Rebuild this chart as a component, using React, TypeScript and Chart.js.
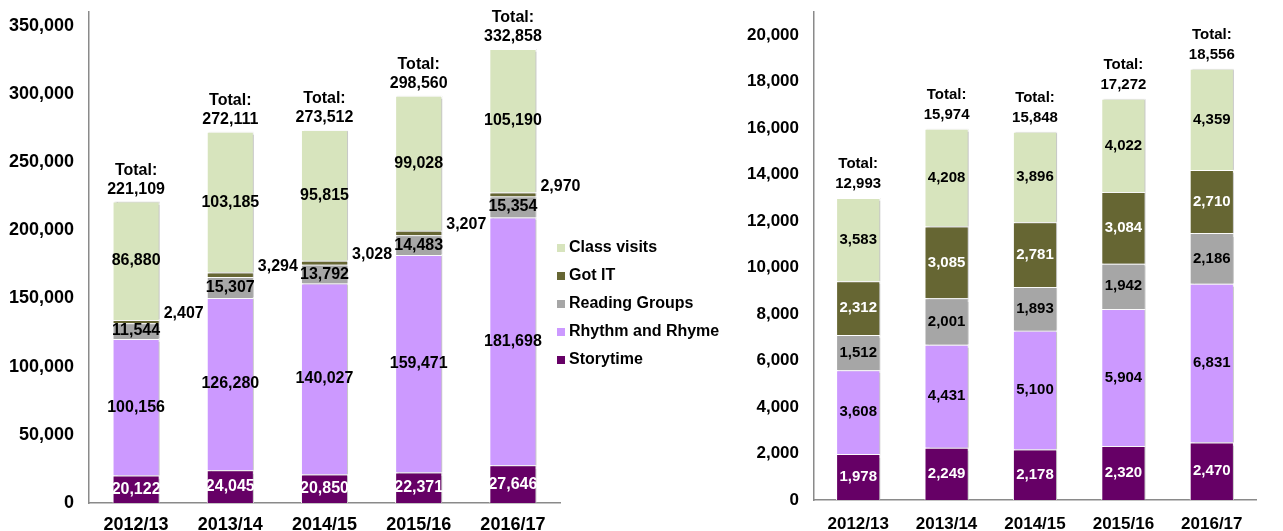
import React, { useEffect, useRef } from "react";
import { Chart, registerables } from "chart.js";

Chart.register(...registerables);

const categories = ["2012/13", "2013/14", "2014/15", "2015/16", "2016/17"];
const seriesNames = ["Storytime", "Rhythm and Rhyme", "Reading Groups", "Got IT", "Class visits"];
const seriesColors = ["#660066", "#CC99FF", "#A6A6A6", "#666633", "#D7E4BD"];

// Left chart (attendances)
const leftStorytime = [20122, 24045, 20850, 22371, 27646];
const leftRhythm = [100156, 126280, 140027, 159471, 181698];
const leftReading = [11544, 15307, 13792, 14483, 15354];
const leftGotIT = [2407, 3294, 3028, 3207, 2970];
const leftClassVisits = [86880, 103185, 95815, 99028, 105190];
const leftTotals = [221109, 272111, 273512, 298560, 332858];
const leftYTicks = [0, 50000, 100000, 150000, 200000, 250000, 300000, 350000];

// Right chart (sessions)
const rightStorytime = [1978, 2249, 2178, 2320, 2470];
const rightRhythm = [3608, 4431, 5100, 5904, 6831];
const rightReading = [1512, 2001, 1893, 1942, 2186];
const rightGotIT = [2312, 3085, 2781, 3084, 2710];
const rightClassVisits = [3583, 4208, 3896, 4022, 4359];
const rightTotals = [12993, 15974, 15848, 17272, 18556];
const rightYTicks = [0, 2000, 4000, 6000, 8000, 10000, 12000, 14000, 16000, 18000, 20000];

const FONT = 'Arial, "Liberation Sans", sans-serif';
const fmt = (v: number) => v.toLocaleString("en-US");

const barShadow = {
  id: "barShadow",
  beforeDatasetDraw(chart: any) {
    const ctx = chart.ctx;
    ctx.save();
    ctx.shadowColor = "rgba(0,0,0,0.22)";
    ctx.shadowOffsetX = 2;
    ctx.shadowOffsetY = 0;
    ctx.shadowBlur = 1;
  },
  afterDatasetDraw(chart: any) {
    chart.ctx.restore();
  },
};

const segLabels = {
  id: "segLabels",
  afterDatasetsDraw(chart: any, _args: any, opts: any) {
    const ctx = chart.ctx;
    ctx.save();
    ctx.font = `bold ${opts.fontSize}px ${FONT}`;
    ctx.textBaseline = "middle";
    chart.data.datasets.forEach((ds: any, di: number) => {
      const meta = chart.getDatasetMeta(di);
      meta.data.forEach((el: any, i: number) => {
        const txt = fmt(ds.data[i]);
        const cy = (el.y + el.base) / 2;
        if (ds.labelSide) {
          ctx.textAlign = "left";
          ctx.fillStyle = "#000";
          ctx.fillText(txt, el.x + el.width / 2 + 4, cy - 8);
        } else {
          ctx.textAlign = "center";
          ctx.fillStyle = ds.labelColor || "#000";
          ctx.fillText(txt, el.x, cy);
        }
      });
    });
    const last = chart.getDatasetMeta(chart.data.datasets.length - 1);
    ctx.fillStyle = "#000";
    ctx.textAlign = "center";
    last.data.forEach((el: any, i: number) => {
      ctx.fillText("Total:", el.x, el.y - opts.totalOffsets[0]);
      ctx.fillText(fmt(opts.totals[i]), el.x, el.y - opts.totalOffsets[1]);
    });
    ctx.restore();
  },
};

const sideLegend = {
  id: "sideLegend",
  afterDraw(chart: any, _args: any, opts: any) {
    if (!opts || !opts.show) return;
    const ctx = chart.ctx;
    const area = chart.chartArea;
    ctx.save();
    ctx.font = `bold 16px ${FONT}`;
    ctx.textBaseline = "middle";
    ctx.textAlign = "left";
    const ds = chart.data.datasets.slice().reverse();
    ds.forEach((d: any, k: number) => {
      const y = area.top + 236 + k * 28;
      const x = area.right - 3;
      ctx.fillStyle = d.backgroundColor;
      ctx.fillRect(x, y - 4, 8, 8);
      ctx.fillStyle = "#000";
      ctx.fillText(d.label, x + 12, y);
    });
    ctx.restore();
  },
};

function buildConfig(
  series: number[][],
  labelColors: string[],
  sideIdx: number,
  totals: number[],
  yTicks: number[],
  yMax: number,
  cfg: any
) {
  return {
    type: "bar",
    data: {
      labels: categories,
      datasets: series.map((data, i) => ({
        label: seriesNames[i],
        data,
        backgroundColor: seriesColors[i],
        borderColor: "#ffffff",
        borderWidth: 1,
        barPercentage: 1,
        categoryPercentage: 0.5,
        labelColor: labelColors[i],
        labelSide: i === sideIdx,
      })),
    },
    options: {
      animation: false,
      responsive: false,
      maintainAspectRatio: false,
      layout: { padding: { left: 0, top: 12, right: cfg.padRight, bottom: 0 } },
      plugins: {
        legend: { display: false },
        tooltip: { enabled: false },
        segLabels: { fontSize: cfg.labelFont, totals, totalOffsets: cfg.totalOffsets },
        sideLegend: { show: cfg.legend },
      },
      scales: {
        x: {
          stacked: true,
          grid: { display: false, drawTicks: false },
          border: { display: true, color: "#8a8a8a", width: 1.5 },
          ticks: { color: "#000", font: { family: FONT, size: cfg.tickFont, weight: "bold" }, padding: cfg.xPad },
          afterFit: (s: any) => {
            s.height = cfg.xHeight;
            s.paddingLeft = 0;
            s.paddingRight = 0;
          },
        },
        y: {
          stacked: true,
          min: 0,
          max: yMax,
          grid: { display: false, drawTicks: false },
          border: { display: true, color: "#8a8a8a", width: 1.5 },
          ticks: {
            color: "#000",
            font: { family: FONT, size: cfg.tickFont, weight: "bold" },
            padding: 15,
            callback: (v: any) => fmt(Number(v)),
          },
          afterBuildTicks: (s: any) => {
            s.ticks = yTicks.map((v) => ({ value: v }));
          },
          afterFit: (s: any) => {
            s.width = cfg.yWidth;
            s.paddingTop = 0;
            s.paddingBottom = 0;
          },
        },
      },
    },
    plugins: [barShadow, segLabels, sideLegend],
  };
}

function ChartCanvas({ config, width, height, left }: any) {
  const ref = useRef<HTMLCanvasElement | null>(null);
  useEffect(() => {
    if (!ref.current) return;
    const chart = new Chart(ref.current, config);
    return () => chart.destroy();
  }, []);
  return (
    <canvas
      ref={ref}
      width={width}
      height={height}
      style={{ position: "absolute", left, top: 0, width, height }}
    />
  );
}

export default function App() {
  const leftConfig = buildConfig(
    [leftStorytime, leftRhythm, leftReading, leftGotIT, leftClassVisits],
    ["#ffffff", "#000", "#000", "#000", "#000"],
    3,
    leftTotals,
    leftYTicks,
    360000,
    { padRight: 170, labelFont: 16, tickFont: 18, totalOffsets: [31, 12], legend: true, xHeight: 28, yWidth: 89, xPad: 11 }
  );
  const rightConfig = buildConfig(
    [rightStorytime, rightRhythm, rightReading, rightGotIT, rightClassVisits],
    ["#ffffff", "#000", "#000", "#ffffff", "#000"],
    -1,
    rightTotals,
    rightYTicks,
    21000,
    { padRight: 27, labelFont: 15, tickFont: 17, totalOffsets: [34, 14], legend: false, xHeight: 31, yWidth: 84, xPad: 14 }
  );
  return (
    <div style={{ position: "absolute", left: 0, top: 0, width: 1283, height: 531, background: "#fff" }}>
      <ChartCanvas config={leftConfig} width={730} height={531} left={0} />
      <ChartCanvas config={rightConfig} width={553} height={531} left={730} />
    </div>
  );
}
